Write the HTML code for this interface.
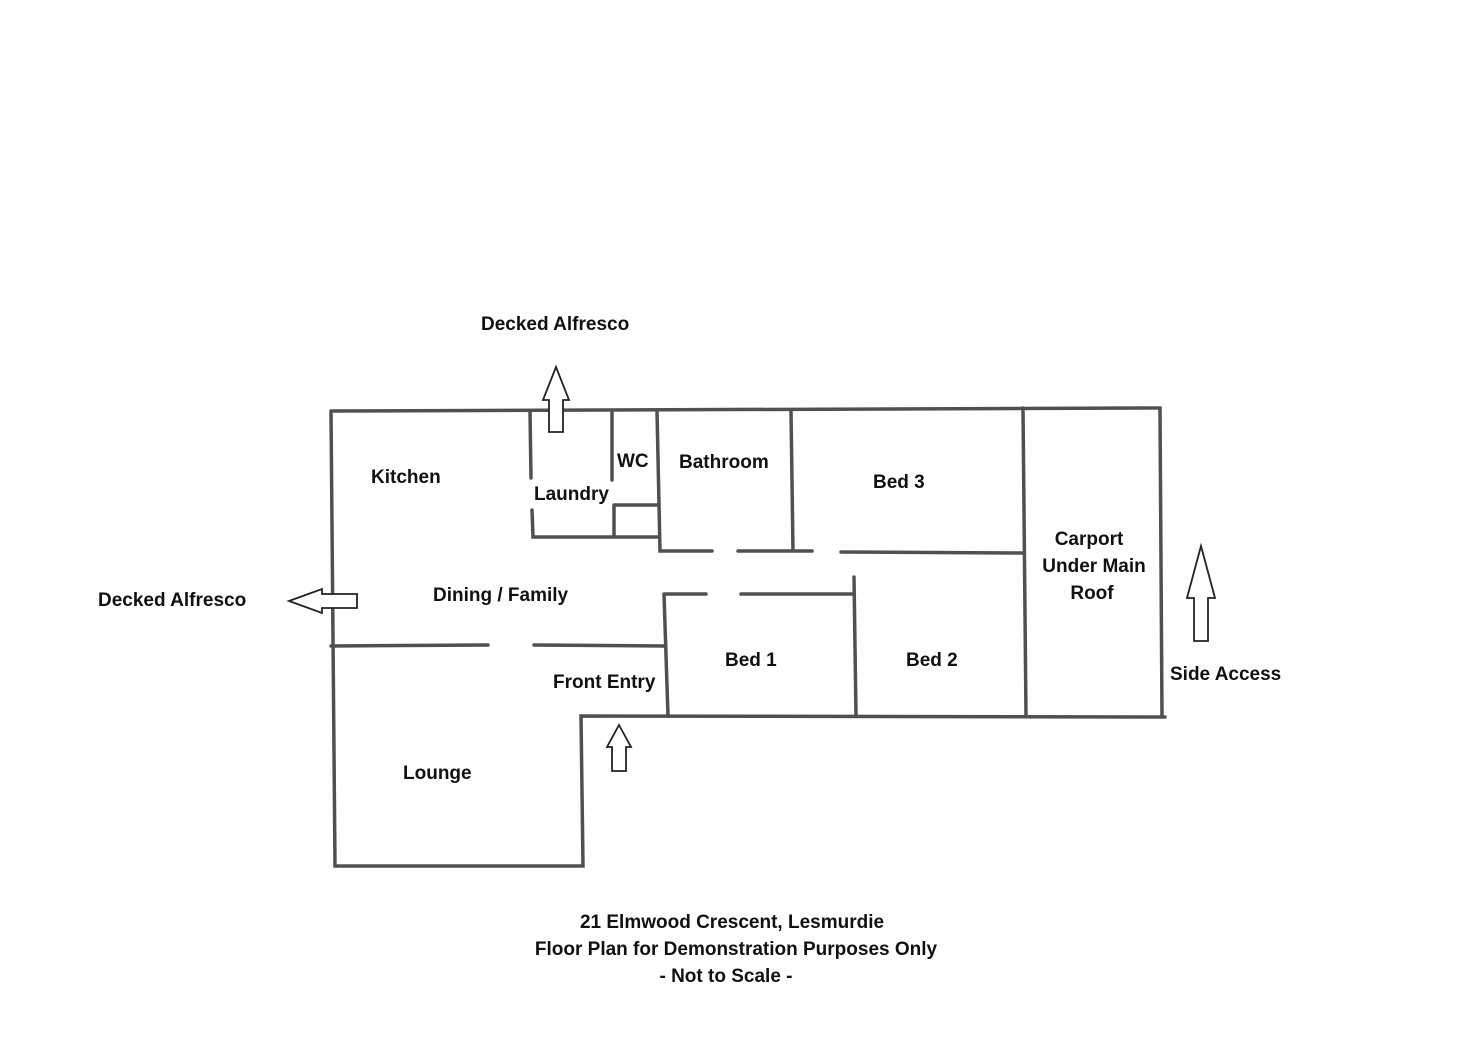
<!DOCTYPE html><html><head><style>body{margin:0;background:#fff}svg text{font-family:"Liberation Sans",sans-serif;font-weight:bold;font-size:19px;fill:#111}</style></head><body>
<svg width="1472" height="1041" xmlns="http://www.w3.org/2000/svg">
<g stroke="#505050" stroke-width="3.5" fill="none" stroke-linecap="round">
<path d="M331 411 L1160 408 L1162 717 M331 411 L335 866 L583 866 L581 716 L1165 717 M1023 408 L1026 716"/>
<path d="M530 411 L531 478 M532 510 L533 537 L658 537 M612 411 L612 480 M614 505 L658 505 M614 505 L614 537"/>
<path d="M657 411 L660 551 L712 551 M738 551 L812 551 M791 411 L793 551 M841 552 L1023 553"/>
<path d="M664 594 L706 594 M741 594 L853 594 M854 577 L856 716 M664 594 L668 716"/>
<path d="M331 646 L488 645 M534 645 L664 646"/>
</g>
<g stroke="#222" stroke-width="1.8" fill="#fff">
<path d="M556 367 L569 400 L563 400 L563 432 L549 432 L549 400 L543 400 Z"/>
<path d="M289 601 L322 589 L322 594 L357 594 L357 608 L322 608 L322 613 Z"/>
<path d="M619 725 L631 747 L626 747 L626 771 L612 771 L612 747 L607 747 Z"/>
<path d="M1201 546 L1215 598 L1208 598 L1208 641 L1194 641 L1194 598 L1187 598 Z"/>
</g>
<text x="481" y="330">Decked Alfresco</text>
<text x="98" y="606">Decked Alfresco</text>
<text x="371" y="483">Kitchen</text>
<text x="534" y="500">Laundry</text>
<text x="617" y="467">WC</text>
<text x="679" y="468">Bathroom</text>
<text x="873" y="488">Bed 3</text>
<text x="1089" y="545" text-anchor="middle">Carport</text>
<text x="1094" y="572" text-anchor="middle">Under Main</text>
<text x="1092" y="599" text-anchor="middle">Roof</text>
<text x="433" y="601">Dining / Family</text>
<text x="725" y="666">Bed 1</text>
<text x="906" y="666">Bed 2</text>
<text x="553" y="688">Front Entry</text>
<text x="1170" y="680">Side Access</text>
<text x="403" y="779">Lounge</text>
<text x="732" y="928" text-anchor="middle">21 Elmwood Crescent, Lesmurdie</text>
<text x="736" y="955" text-anchor="middle">Floor Plan for Demonstration Purposes Only</text>
<text x="726" y="982" text-anchor="middle">- Not to Scale -</text>
</svg></body></html>
